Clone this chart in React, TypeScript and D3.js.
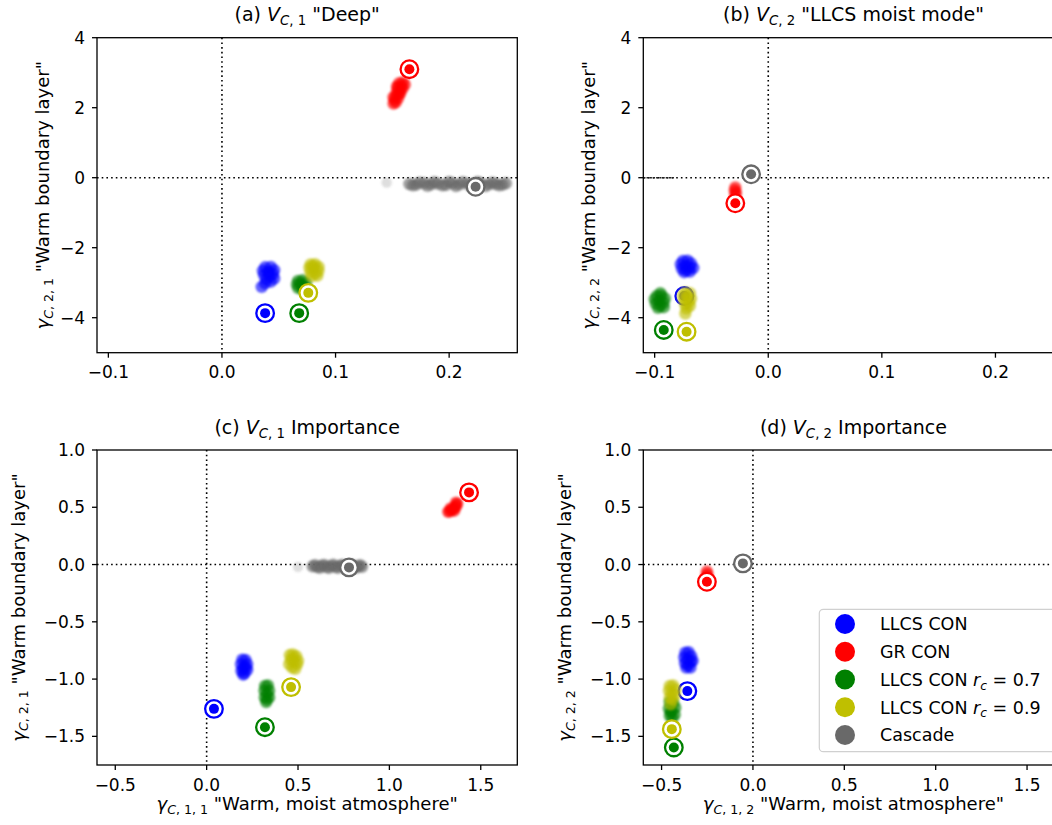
import React from 'react';
import * as d3 from 'd3';

type Pt = [number, number];

// ---- series ----
const seriesLabels = ['LLCS CON', 'GR CON', 'LLCS CON r_c = 0.7', 'LLCS CON r_c = 0.9', 'Cascade'];
const seriesColors = ['#0000ff', '#ff0000', '#008000', '#bfbf00', '#696969'];

// ---- ticks ----
const xTicksTop = [-0.1, 0, 0.1, 0.2];
const xTickLabelsTop = ['\u22120.1', '0.0', '0.1', '0.2'];
const yTicksTop = [4, 2, 0, -2, -4];
const yTickLabelsTop = ['4', '2', '0', '\u22122', '\u22124'];
const xTicksBottom = [-0.5, 0, 0.5, 1, 1.5];
const xTickLabelsBottom = ['\u22120.5', '0.0', '0.5', '1.0', '1.5'];
const yTicksBottom = [1, 0.5, 0, -0.5, -1, -1.5];
const yTickLabelsBottom = ['1.0', '0.5', '0.0', '\u22120.5', '\u22121.0', '\u22121.5'];

// ---- (a) V_C,1 "Deep": ensemble members ----
const deepBlue: Pt[] = [[0.038, -2.56], [0.043, -2.55], [0.046, -2.64], [0.036, -2.66], [0.041, -2.68], [0.045, -2.75], [0.037, -2.78], [0.042, -2.82], [0.046, -2.88], [0.039, -2.9], [0.043, -2.97], [0.038, -3.02], [0.041, -2.72], [0.035, -3.12]];
const deepRed: Pt[] = [[0.159, 2.72], [0.156, 2.7], [0.158, 2.62], [0.155, 2.58], [0.157, 2.5], [0.154, 2.45], [0.156, 2.38], [0.153, 2.33], [0.155, 2.27], [0.152, 2.22], [0.153, 2.15], [0.151, 2.12], [0.157, 2.42], [0.161, 2.66], [0.159, 2.55], [0.151, 2.3], [0.154, 2.6]];
const deepGreen: Pt[] = [[0.067, -2.95], [0.071, -2.93], [0.074, -3.0], [0.066, -3.05], [0.07, -3.08], [0.073, -3.12], [0.067, -3.15], [0.071, -3.2], [0.069, -3.02]];
const deepYellow: Pt[] = [[0.078, -2.48], [0.082, -2.47], [0.085, -2.55], [0.077, -2.58], [0.081, -2.6], [0.085, -2.66], [0.078, -2.7], [0.082, -2.74], [0.084, -2.8], [0.079, -2.82], [0.08, -2.52]];
const deepGray: Pt[] = [
  [0.165, -0.18], [0.171, -0.2], [0.178, -0.16], [0.184, -0.19], [0.19, -0.17], [0.197, -0.21], [0.203, -0.16], [0.209, -0.19],
  [0.216, -0.17], [0.222, -0.2], [0.228, -0.16], [0.235, -0.19], [0.241, -0.18], [0.247, -0.2],
  [0.168, -0.22], [0.174, -0.14], [0.181, -0.23], [0.187, -0.13], [0.194, -0.22], [0.2, -0.12], [0.206, -0.24], [0.212, -0.13],
  [0.219, -0.23], [0.225, -0.12], [0.232, -0.24], [0.238, -0.14], [0.244, -0.22], [0.25, -0.16],
];
const deepGrayStray: Pt[] = [[0.145, -0.14]];
// control runs (circled)
const deepControl: Pt[] = [[0.038, -3.87], [0.165, 3.1], [0.068, -3.87], [0.076, -3.29], [0.2233, -0.26]];

// ---- (b) V_C,2 "LLCS moist mode" ----
const moistBlue: Pt[] = [[-0.075, -2.38], [-0.071, -2.37], [-0.068, -2.45], [-0.077, -2.47], [-0.073, -2.52], [-0.069, -2.56], [-0.076, -2.6], [-0.072, -2.65], [-0.069, -2.68], [-0.074, -2.7], [-0.066, -2.58]];
const moistRed: Pt[] = [[-0.029, -0.28], [-0.0295, -0.36], [-0.0285, -0.42], [-0.029, -0.5]];
const moistGreen: Pt[] = [[-0.098, -3.38], [-0.094, -3.37], [-0.091, -3.45], [-0.1, -3.47], [-0.096, -3.52], [-0.092, -3.57], [-0.099, -3.6], [-0.095, -3.66], [-0.092, -3.7], [-0.097, -3.72], [-0.095, -3.3]];
const moistYellow: Pt[] = [[-0.073, -3.28], [-0.069, -3.3], [-0.075, -3.38], [-0.071, -3.4], [-0.068, -3.46], [-0.074, -3.5], [-0.07, -3.55], [-0.073, -3.62], [-0.069, -3.66], [-0.072, -3.74], [-0.073, -3.88]];
const moistGray: Pt[] = [[-0.015, 0.05], [-0.016, 0.12]];
const moistControl: Pt[] = [[-0.0739, -3.38], [-0.029, -0.73], [-0.092, -4.35], [-0.0719, -4.4], [-0.0151, 0.097]];
const moistZeroTrace: [number, number] = [-0.11, -0.083];

// ---- (c) V_C,1 importance ----
const deepImpBlue: Pt[] = [[0.195, -0.83], [0.212, -0.832], [0.222, -0.87], [0.188, -0.87], [0.205, -0.89], [0.222, -0.92], [0.19, -0.93], [0.207, -0.95], [0.2, -0.96], [0.215, -0.9], [0.198, -0.91]];
const deepImpRed: Pt[] = [[1.322, 0.46], [1.33, 0.465], [1.338, 0.475], [1.345, 0.48], [1.352, 0.49], [1.36, 0.5], [1.366, 0.515], [1.371, 0.53], [1.335, 0.49], [1.355, 0.47], [1.365, 0.54]];
const deepImpGreen: Pt[] = [[0.32, -1.06], [0.335, -1.055], [0.342, -1.1], [0.316, -1.1], [0.33, -1.13], [0.342, -1.16], [0.318, -1.16], [0.33, -1.18], [0.326, -1.2]];
const deepImpYellow: Pt[] = [[0.455, -0.79], [0.472, -0.785], [0.49, -0.8], [0.5, -0.84], [0.46, -0.83], [0.478, -0.85], [0.495, -0.87], [0.452, -0.87], [0.468, -0.9], [0.485, -0.91], [0.475, -0.82]];
const deepImpGray: Pt[] = [
  [0.58, -0.015], [0.605, -0.02], [0.63, -0.01], [0.655, -0.02], [0.68, -0.012], [0.705, -0.02], [0.73, -0.01], [0.755, -0.018],
  [0.78, -0.012], [0.805, -0.02], [0.83, -0.015], [0.85, -0.02],
  [0.593, -0.005], [0.618, -0.028], [0.643, -0.003], [0.668, -0.03], [0.693, -0.002], [0.718, -0.028], [0.743, -0.004],
  [0.768, -0.03], [0.793, -0.003], [0.818, -0.027], [0.84, -0.006],
];
const deepImpGrayStray: Pt[] = [[0.5, -0.02]];
const deepImpControl: Pt[] = [[0.04, -1.26], [1.436, 0.63], [0.319, -1.42], [0.462, -1.07], [0.779, -0.025]];

// ---- (d) V_C,2 importance ----
const moistImpBlue: Pt[] = [[-0.37, -0.77], [-0.352, -0.765], [-0.338, -0.8], [-0.376, -0.81], [-0.358, -0.83], [-0.34, -0.85], [-0.372, -0.86], [-0.355, -0.88], [-0.342, -0.9], [-0.365, -0.9], [-0.33, -0.84]];
const moistImpRed: Pt[] = [[-0.252, -0.06], [-0.249, -0.085], [-0.254, -0.1]];
const moistImpGreen: Pt[] = [[-0.455, -1.2], [-0.437, -1.21], [-0.425, -1.25], [-0.46, -1.26], [-0.443, -1.28], [-0.428, -1.31], [-0.455, -1.32], [-0.44, -1.34], [-0.45, -1.29]];
const moistImpYellow: Pt[] = [[-0.455, -1.06], [-0.437, -1.055], [-0.424, -1.09], [-0.46, -1.1], [-0.443, -1.12], [-0.428, -1.14], [-0.455, -1.16], [-0.44, -1.18], [-0.45, -1.22]];
const moistImpGray: Pt[] = [[-0.055, 0.0], [-0.05, 0.005]];
const moistImpControl: Pt[] = [[-0.359, -1.105], [-0.252, -0.15], [-0.433, -1.597], [-0.444, -1.437], [-0.055, 0.01]];

// ---- text pieces ----
type Part = { t: string; it?: boolean; sub?: boolean };
const titleA: Part[] = [{ t: '(a) ' }, { t: 'V', it: true }, { t: 'C', it: true, sub: true }, { t: ', 1', sub: true }, { t: ' "Deep"' }];
const titleB: Part[] = [{ t: '(b) ' }, { t: 'V', it: true }, { t: 'C', it: true, sub: true }, { t: ', 2', sub: true }, { t: ' "LLCS moist mode"' }];
const titleC: Part[] = [{ t: '(c) ' }, { t: 'V', it: true }, { t: 'C', it: true, sub: true }, { t: ', 1', sub: true }, { t: ' Importance' }];
const titleD: Part[] = [{ t: '(d) ' }, { t: 'V', it: true }, { t: 'C', it: true, sub: true }, { t: ', 2', sub: true }, { t: ' Importance' }];
const gammaLabel = (a: string, b: string, rest: string): Part[] => [
  { t: '\u03b3', it: true }, { t: 'C', it: true, sub: true }, { t: `, ${a}, ${b}`, sub: true }, { t: rest },
];
const ylabelA = gammaLabel('2', '1', ' "Warm boundary layer"');
const ylabelB = gammaLabel('2', '2', ' "Warm boundary layer"');
const xlabelC = gammaLabel('1', '1', ' "Warm, moist atmosphere"');
const xlabelD = gammaLabel('1', '2', ' "Warm, moist atmosphere"');
const legendParts: Part[][] = [
  [{ t: 'LLCS CON' }],
  [{ t: 'GR CON' }],
  [{ t: 'LLCS CON ' }, { t: 'r', it: true }, { t: 'c', it: true, sub: true }, { t: ' = 0.7' }],
  [{ t: 'LLCS CON ' }, { t: 'r', it: true }, { t: 'c', it: true, sub: true }, { t: ' = 0.9' }],
  [{ t: 'Cascade' }],
];

const FONT = 'DejaVu Sans, Verdana, sans-serif';
const TICK_FS = 17;
const LABEL_FS = 18;
const TITLE_FS = 19;
const LEGEND_FS = 17.5;

function Rich({ parts, fs, ...rest }: { parts: Part[]; fs: number; [k: string]: any }) {
  let down = false;
  const shift = fs * 0.22;
  return (
    <text fontFamily={FONT} fontSize={fs} style={{ whiteSpace: 'pre' }} {...rest}>
      {parts.map((p, i) => {
        let dy: number | undefined;
        if (p.sub && !down) { dy = shift; down = true; }
        else if (!p.sub && down) { dy = -shift; down = false; }
        return (
          <tspan key={i} dy={dy} fontStyle={p.it ? 'italic' : undefined} fontSize={p.sub ? fs * 0.7 : undefined}>
            {p.t}
          </tspan>
        );
      })}
    </text>
  );
}

type PanelSpec = {
  left: number; top: number; width: number; height: number;
  xDomain: [number, number]; yDomain: [number, number];
  xTicks: number[]; xTickLabels: string[]; yTicks: number[]; yTickLabels: string[];
  clouds: Pt[][]; control: Pt[]; strays?: Pt[];
  title: Part[]; ylabel: Part[]; xlabel?: Part[]; ylabelOffset: number;
  zeroTrace?: [number, number]; legend?: boolean;
};

const CLOUD_R = 6.2;
const CLOUD_ALPHA = 0.62;

function Panel({ p }: { p: PanelSpec }) {
  const x = d3.scaleLinear().domain(p.xDomain).range([p.left, p.left + p.width]);
  const y = d3.scaleLinear().domain(p.yDomain).range([p.top + p.height, p.top]);
  const bottom = p.top + p.height;
  const right = p.left + p.width;
  const tickLen = 5;
  return (
    <g>
      {/* zero reference lines */}
      <line x1={x(0)} x2={x(0)} y1={p.top} y2={bottom} stroke="#000" strokeWidth={1.6} strokeDasharray="1.6 3.1" />
      <line x1={p.left} x2={right} y1={y(0)} y2={y(0)} stroke="#000" strokeWidth={1.6} strokeDasharray="1.6 3.1" />
      {p.zeroTrace && (
        <line x1={x(p.zeroTrace[0])} x2={x(p.zeroTrace[1])} y1={y(0)} y2={y(0)} stroke="#222" strokeWidth={1.6} strokeDasharray="2.2 1" />
      )}
      {/* series: ensemble cloud, then circled control run */}
      {p.clouds.map((cloud, si) => (
        <g key={si}>
          <g filter="url(#soft)">
            {si === 4 && p.strays && p.strays.map((pt, k) => (
              <circle key={'s' + k} cx={x(pt[0])} cy={y(pt[1])} r={CLOUD_R - 1} fill={seriesColors[si]} fillOpacity={0.22} />
            ))}
            {cloud.map((pt, k) => (
              <circle key={k} cx={x(pt[0])} cy={y(pt[1])} r={CLOUD_R} fill={seriesColors[si]} fillOpacity={CLOUD_ALPHA} />
            ))}
          </g>
          <circle cx={x(p.control[si][0])} cy={y(p.control[si][1])} r={8.8} fill="#fff" stroke={seriesColors[si]} strokeWidth={2.3} />
          <circle cx={x(p.control[si][0])} cy={y(p.control[si][1])} r={5} fill={seriesColors[si]} />
        </g>
      ))}
      {/* frame */}
      <rect x={p.left} y={p.top} width={p.width} height={p.height} fill="none" stroke="#000" strokeWidth={1.3} />
      {/* ticks */}
      {p.xTicks.map((t, i) => (
        <g key={'x' + i}>
          <line x1={x(t)} x2={x(t)} y1={bottom} y2={bottom + tickLen} stroke="#000" strokeWidth={1.3} />
          <text x={x(t)} y={bottom + 25.6} textAnchor="middle" fontFamily={FONT} fontSize={TICK_FS}>{p.xTickLabels[i]}</text>
        </g>
      ))}
      {p.yTicks.map((t, i) => (
        <g key={'y' + i}>
          <line x1={p.left - tickLen} x2={p.left} y1={y(t)} y2={y(t)} stroke="#000" strokeWidth={1.3} />
          <text x={p.left - 12} y={y(t)} dy="0.36em" textAnchor="end" fontFamily={FONT} fontSize={TICK_FS}>{p.yTickLabels[i]}</text>
        </g>
      ))}
      <Rich parts={p.title} fs={TITLE_FS} x={p.left + p.width / 2} y={p.top - 16.5} textAnchor="middle" />
      <Rich
        parts={p.ylabel}
        fs={LABEL_FS}
        textAnchor="middle"
        transform={`translate(${p.left - p.ylabelOffset},${p.top + p.height / 2}) rotate(-90)`}
      />
      {p.xlabel && <Rich parts={p.xlabel} fs={LABEL_FS} x={p.left + p.width / 2} y={bottom + 45} textAnchor="middle" />}
      {p.legend && <Legend />}
    </g>
  );
}

function Legend() {
  const bx = 819.3, by = 609.3, bw = 240, bh = 142.4;
  const rowY = (i: number) => 624 + i * 27.75;
  return (
    <g>
      <rect x={bx} y={by} width={bw} height={bh} rx={4} fill="#fff" fillOpacity={0.85} stroke="#d0d0d0" strokeWidth={1.2} />
      {seriesLabels.map((_, i) => (
        <g key={i}>
          <circle cx={845} cy={rowY(i)} r={10} fill={seriesColors[i]} />
          <Rich parts={legendParts[i]} fs={LEGEND_FS} x={880} y={rowY(i) + 6.3} />
        </g>
      ))}
    </g>
  );
}

const topH = 315, W0 = 420.3;
const panels: PanelSpec[] = [
  {
    left: 97, top: 37.7, width: W0, height: topH, xDomain: [-0.11, 0.26], yDomain: [-5, 4],
    xTicks: xTicksTop, xTickLabels: xTickLabelsTop, yTicks: yTicksTop, yTickLabels: yTickLabelsTop,
    clouds: [deepBlue, deepRed, deepGreen, deepYellow, deepGray], control: deepControl, strays: deepGrayStray,
    title: titleA, ylabel: ylabelA, ylabelOffset: 48,
  },
  {
    left: 643.3, top: 37.7, width: W0, height: topH, xDomain: [-0.11, 0.26], yDomain: [-5, 4],
    xTicks: xTicksTop, xTickLabels: xTickLabelsTop, yTicks: yTicksTop, yTickLabels: yTickLabelsTop,
    clouds: [moistBlue, moistRed, moistGreen, moistYellow, moistGray], control: moistControl,
    title: titleB, ylabel: ylabelB, ylabelOffset: 48, zeroTrace: moistZeroTrace,
  },
  {
    left: 97, top: 450, width: W0, height: topH, xDomain: [-0.6, 1.7], yDomain: [-1.75, 1.0],
    xTicks: xTicksBottom, xTickLabels: xTickLabelsBottom, yTicks: yTicksBottom, yTickLabels: yTickLabelsBottom,
    clouds: [deepImpBlue, deepImpRed, deepImpGreen, deepImpYellow, deepImpGray], control: deepImpControl, strays: deepImpGrayStray,
    title: titleC, ylabel: ylabelA, xlabel: xlabelC, ylabelOffset: 72.5,
  },
  {
    left: 643.3, top: 450, width: W0, height: topH, xDomain: [-0.6, 1.7], yDomain: [-1.75, 1.0],
    xTicks: xTicksBottom, xTickLabels: xTickLabelsBottom, yTicks: yTicksBottom, yTickLabels: yTickLabelsBottom,
    clouds: [moistImpBlue, moistImpRed, moistImpGreen, moistImpYellow, moistImpGray], control: moistImpControl,
    title: titleD, ylabel: ylabelB, xlabel: xlabelD, ylabelOffset: 72.5, legend: true,
  },
];

export default function App() {
  return (
    <svg
      width={1052}
      height={825}
      viewBox="0 0 1052 825"
      style={{ position: 'absolute', left: 0, top: 0, background: '#fff', display: 'block' }}
    >
      <defs>
        <filter id="soft" x="-20%" y="-20%" width="140%" height="140%">
          <feGaussianBlur stdDeviation={0.9} />
        </filter>
      </defs>
      <rect width={1052} height={825} fill="#fff" />
      {panels.map((p, i) => <Panel key={i} p={p} />)}
    </svg>
  );
}
